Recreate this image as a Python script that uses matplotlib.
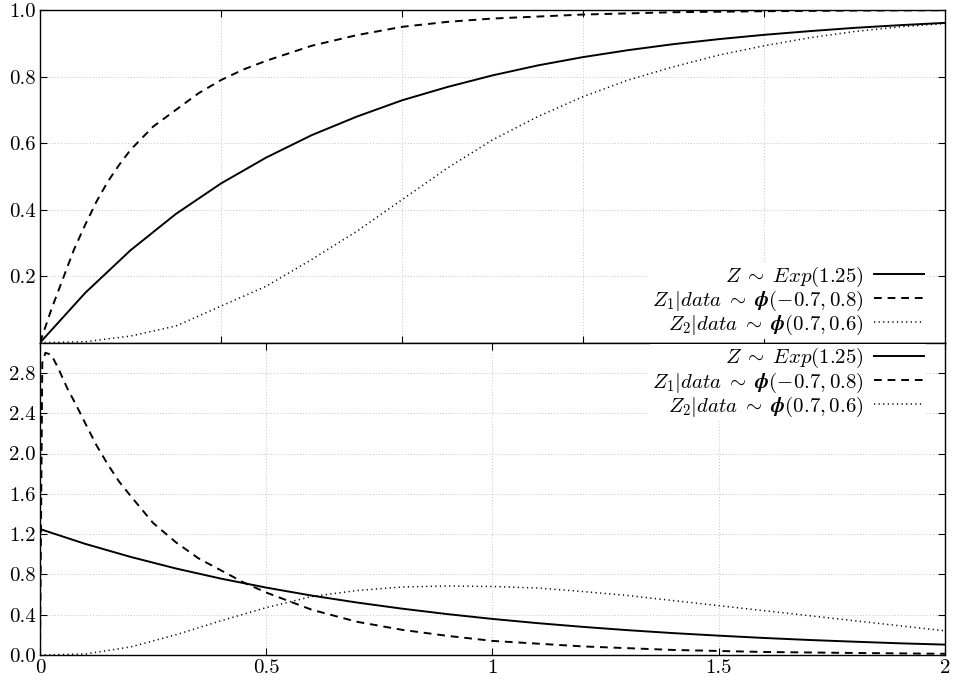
import numpy as np
import matplotlib
matplotlib.use("Agg")
import matplotlib.pyplot as plt

plt.rcParams['font.family'] = 'serif'
plt.rcParams['font.serif'] = ['cmr10']
plt.rcParams['mathtext.fontset'] = 'cm'
plt.rcParams['axes.unicode_minus'] = False

# --- values ---
# top panel: cumulative curves
x_exp_cdf = [0, 0.1, 0.2, 0.3, 0.4, 0.5, 0.6, 0.7, 0.8, 0.9, 1.0,
             1.1, 1.2, 1.3, 1.4, 1.5, 1.6, 1.7, 1.8, 1.9, 2.0]
exp_cdf = [0, 0.150, 0.278, 0.387, 0.479, 0.557, 0.624, 0.680, 0.729, 0.769, 0.804,
           0.834, 0.859, 0.880, 0.898, 0.913, 0.926, 0.937, 0.947, 0.955, 0.962]

x_z1_cdf = [0, 0.0125, 0.025, 0.05, 0.075, 0.1, 0.125, 0.15, 0.175, 0.2, 0.25, 0.3,
            0.35, 0.4, 0.45, 0.5, 0.6, 0.7, 0.8, 0.9, 1.0, 1.2, 1.4, 1.6, 1.8, 2.0]
z1_cdf = [0, 0.05, 0.10, 0.19, 0.28, 0.355, 0.425, 0.485, 0.535, 0.58, 0.65, 0.70,
          0.75, 0.79, 0.822, 0.848, 0.893, 0.925, 0.95, 0.965, 0.975, 0.987,
          0.994, 0.997, 0.999, 1.0]

x_z2_cdf = x_exp_cdf
z2_cdf = [0, 0.003, 0.02, 0.05, 0.11, 0.17, 0.25, 0.335, 0.43, 0.525, 0.61,
          0.68, 0.74, 0.79, 0.83, 0.865, 0.893, 0.917, 0.936, 0.95, 0.96]

# bottom panel: densities
x_exp_pdf = x_exp_cdf
exp_pdf = [1.25, 1.103, 0.974, 0.859, 0.758, 0.669, 0.590, 0.521, 0.460, 0.406, 0.358,
           0.316, 0.279, 0.246, 0.217, 0.192, 0.169, 0.149, 0.132, 0.116, 0.103]

x_z1_pdf = [0, 0.005, 0.012, 0.025, 0.04, 0.06, 0.08, 0.1, 0.125, 0.15, 0.175, 0.2,
            0.25, 0.3, 0.35, 0.4, 0.45, 0.5, 0.6, 0.7, 0.8, 0.9, 1.0,
            1.2, 1.4, 1.6, 1.8, 2.0]
z1_pdf = [0, 2.9, 3.0, 2.98, 2.85, 2.65, 2.48, 2.3, 2.08, 1.89, 1.72, 1.58,
          1.31, 1.12, 0.96, 0.84, 0.72, 0.62, 0.45, 0.33, 0.25, 0.19, 0.14,
          0.085, 0.05, 0.03, 0.02, 0.012]

x_z2_pdf = x_exp_cdf
z2_pdf = [0, 0.01, 0.08, 0.20, 0.34, 0.47, 0.58, 0.64, 0.675, 0.685, 0.68,
          0.665, 0.63, 0.59, 0.54, 0.49, 0.44, 0.39, 0.34, 0.29, 0.24]

labels = [r'$Z\;\sim\;Exp(1.25)$',
          r'$Z_1|data\;\sim\;\boldsymbol{\phi}(-0.7, 0.8)$',
          r'$Z_2|data\;\sim\;\boldsymbol{\phi}(0.7, 0.6)$']

top_xticks = [0.4, 0.8, 1.2, 1.6]
top_yticks = [0.2, 0.4, 0.6, 0.8, 1.0]
bot_xticks = [0, 0.5, 1, 1.5, 2]
bot_xlabels = ['0', '0.5', '1', '1.5', '2']
bot_yticks = [0.0, 0.4, 0.8, 1.2, 1.6, 2.0, 2.4, 2.8]

fig = plt.figure(figsize=(9.55, 6.82), dpi=100)
ax1 = fig.add_axes([0.0419, 0.4975, 0.9476, 0.4875])
ax2 = fig.add_axes([0.0419, 0.0396, 0.9476, 0.4579])

styles = [dict(ls='-', lw=1.4),
          dict(ls=(0, (4, 3)), lw=1.4),
          dict(ls=(0, (0.8, 2.2)), lw=1.1)]

ax1.plot(x_exp_cdf, exp_cdf, color='black', label=labels[0], **styles[0])
ax1.plot(x_z1_cdf, z1_cdf, color='black', label=labels[1], **styles[1])
ax1.plot(x_z2_cdf, z2_cdf, color='black', label=labels[2], **styles[2])

ax2.plot(x_exp_pdf, exp_pdf, color='black', label=labels[0], **styles[0])
ax2.plot(x_z1_pdf, z1_pdf, color='black', label=labels[1], **styles[1])
ax2.plot(x_z2_pdf, z2_pdf, color='black', label=labels[2], **styles[2])

leg_kw = dict(frameon=True, fancybox=False, edgecolor='none', facecolor='white',
              framealpha=1, fontsize=15, markerfirst=False, handlelength=2.4,
              labelspacing=0.0, borderpad=0.1, borderaxespad=0.9,
              handletextpad=0.5)

for ax in (ax1, ax2):
    ax.set_xlim(0, 2)
    ax.grid(True, color='#c4c4c4', ls=(0, (1, 2)), lw=0.7)
    ax.tick_params(direction='in', top=True, right=True, length=5, width=0.8,
                   labelsize=15, pad=3)
    for s in ax.spines.values():
        s.set_linewidth(1.0)

ax1.legend(loc='lower right', bbox_to_anchor=(1.0, -0.045), **leg_kw)
ax2.legend(loc='upper right', bbox_to_anchor=(1.0, 1.055), **leg_kw)

ax1.set_ylim(0, 1.0)
ax1.set_xticks(top_xticks)
ax1.set_xticklabels([])
ax1.set_yticks(top_yticks)
ax1.set_yticklabels(['%.1f' % v for v in top_yticks])

ax2.set_ylim(0, 3.1)
ax2.set_xticks(bot_xticks)
ax2.set_xticklabels(bot_xlabels)
ax2.set_yticks(bot_yticks)
ax2.set_yticklabels(['%.1f' % v for v in bot_yticks])

fig.savefig('out.png', dpi=100)
